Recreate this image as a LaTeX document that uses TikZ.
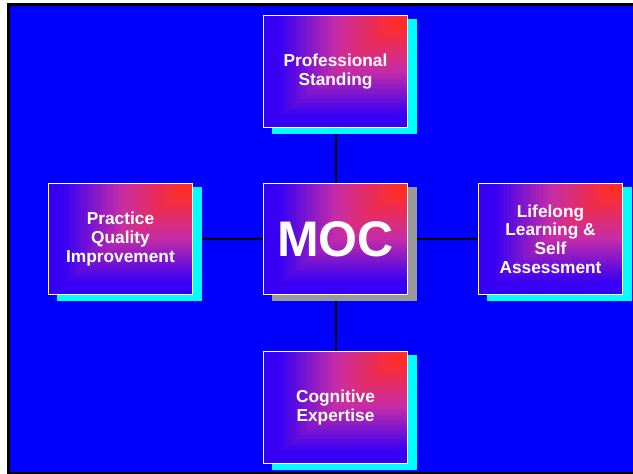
\documentclass[tikz,border=0pt]{standalone}
\usepackage{fontspec}
\setmainfont{Liberation Sans}
\pgfdeclarelayer{back}
\pgfdeclarelayer{lines}
\pgfsetlayers{back,lines,main}
\definecolor{cR}{RGB}{255,45,40}
\definecolor{cM}{RGB}{200,45,165}
\definecolor{cB}{RGB}{55,0,245}
\definecolor{bgblue}{RGB}{0,0,255}
\definecolor{shcyan}{RGB}{0,255,255}
\definecolor{shgray}{RGB}{153,153,153}
\tikzset{
  boxtext/.style={draw=white, line width=1pt, inner sep=0pt, align=center, text=white,
    font=\bfseries\fontsize{17.3}{18.6}\selectfont},
  conn/.style={draw=black, line width=2pt}
}
\newcommand\mygbox[7]{%
  \fill[#6] ({#2+8.5},{#3+3.5}) rectangle ({#4+9.5},{#5+6.5});
  \foreach \k in {0,...,44}{%
    \pgfmathsetmacro\ff{1-\k/45}%
    \ifdim\ff pt>0.5pt
      \pgfmathsetmacro\pp{min(100,(\ff-0.5)/0.4*100)}%
      \colorlet{gc}{cB!\pp!cM}%
    \else
      \pgfmathsetmacro\pp{max(0,(\ff-0.1)/0.4*100)}%
      \colorlet{gc}{cM!\pp!cR}%
    \fi
    \fill[gc] ({#4-\ff*(#4-#2)},#3) rectangle (#4,{#3+\ff*(#5-#3)});
  }%
  \node[boxtext, minimum width={(#4-#2)*1pt}, minimum height={(#5-#3)*1pt}] (#1) at ({(#2+#4)/2},{(#3+#5)/2}) {#7};
}
\begin{document}
\begin{tikzpicture}[x=1pt,y=-1pt]
\useasboundingbox (0,0) rectangle (633,474);
\begin{pgfonlayer}{back}
  \draw[line width=3pt, fill=bgblue] (8.5,4.5) rectangle (650,473.5);
\end{pgfonlayer}
\mygbox{ps}{263.5}{15.5}{407.5}{127.5}{shcyan}{Professional\\Standing}
\mygbox{moc}{263.5}{183.5}{407.5}{294.5}{shgray}{\fontsize{50}{51}\selectfont MOC}
\mygbox{pqi}{48.5}{183.5}{192.5}{294.5}{shcyan}{Practice\\Quality\\Improvement}
\mygbox{lls}{478.5}{183.5}{622.5}{294.5}{shcyan}{Lifelong\\Learning \&\\Self\\Assessment}
\mygbox{ce}{263.5}{351.5}{407.5}{463.5}{shcyan}{Cognitive\\Expertise}
\begin{pgfonlayer}{lines}
  \draw[conn] (moc) -- (ps);
  \draw[conn] (moc) -- (ce);
  \draw[conn] (moc) -- (pqi);
  \draw[conn] (moc) -- (lls);
\end{pgfonlayer}
\end{tikzpicture}
\end{document}
